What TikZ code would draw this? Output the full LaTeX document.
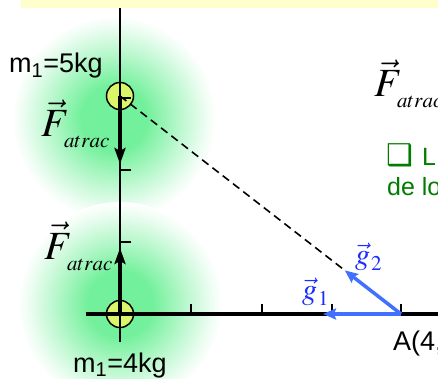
\documentclass[tikz,border=0pt]{standalone}
\usepackage{mathptmx}
\usepackage[no-math]{fontspec}
\setmainfont{Liberation Sans}
\newfontfamily\dejavu{DejaVu Sans}
\usetikzlibrary{arrows.meta,calc}
\definecolor{band}{RGB}{255,255,204}
\definecolor{glowg}{RGB}{115,240,155}
\colorlet{glowm}{glowg!50!white}
\colorlet{glowl}{glowg!15!white}
\definecolor{massfill}{RGB}{218,245,105}
\definecolor{vblue}{RGB}{64,112,255}
\definecolor{tblue}{RGB}{25,45,255}
\definecolor{dgreen}{RGB}{0,125,0}
\pgfdeclareradialshading{glow}{\pgfpoint{0bp}{0bp}}{color(0bp)=(glowg); color(8bp)=(glowg); color(16bp)=(glowm); color(22bp)=(glowl); color(25bp)=(white); color(50bp)=(white)}
\newcommand\fatr{{\fontsize{40}{44}\selectfont$\vec{F}$\kern-5pt\raisebox{-11pt}{\fontsize{21}{21}\selectfont$atrac$}}}
\newcommand\gvec[1]{{\fontsize{30}{32}\selectfont$\vec{g}$\kern1pt\raisebox{-6pt}{\fontsize{21}{21}\selectfont$#1$}}}
\begin{document}
\begin{tikzpicture}[x=1pt,y=-1pt,
  mass/.style={circle,draw=black,line width=1.5pt,fill=massfill,minimum size=27pt,inner sep=0},
  axisline/.style={line width=2pt},
  haxis/.style={line width=3.2pt},
  tick/.style={line width=1.2pt},
  force/.style={line width=4.5pt,-{Stealth[length=16pt,width=11pt,inset=3pt]}},
  garrow/.style={vblue,line width=3.5pt,-{Stealth[length=13pt,width=11pt,inset=2pt]}},
  dashline/.style={line width=1.6pt,dash pattern=on 8pt off 5pt},
  lab/.style={inner sep=0,font=\fontsize{27}{30}\selectfont},
  glab/.style={inner sep=0,text=tblue},
  txt/.style={inner sep=0,text=dgreen,font=\fontsize{25}{30}\selectfont}]
\useasboundingbox (0,0) rectangle (438,379);
% glows
\shade[shading=glow] (114,118) circle (102pt);
\shade[shading=glow] (120,304) circle (102pt);
% top band
\fill[band] (21,0) rectangle (438,8);
% coordinates
\coordinate (ytop) at (120,8);
\coordinate (ybot) at (120,342);
\coordinate (xl) at (86,314);
\coordinate (xr) at (438,314);
\coordinate (A) at (401,314);
% masses
\node[mass] (m2) at (120,96) {};
\node[mass] (m1) at (120,314) {};
\coordinate (g2tip) at ($(A)!0.2!(m2.center)$);
\coordinate (g1tip) at (323,314);
\coordinate (f2tip) at (120,164);
\coordinate (f1tip) at (120,248);
% dashed line
\draw[dashline] (m2.center) -- (g2tip);
% axes
\draw[axisline] (ytop) -- (ybot);
\draw[haxis] (xl) -- (xr);
% ticks
\foreach \x in {191,262,332,401} \draw[tick] (\x,304) -- (\x,314);
\foreach \y in {98,170,242} \draw[tick] (120,\y) -- (131,\y);
% forces
\draw[force] (m2.center) -- (f2tip);
\draw[force] (m1.center) -- (f1tip);
% field vectors
\draw[garrow] (A) -- (g1tip);
\draw[garrow] (A) -- (g2tip);
% labels
\node[lab,anchor=base west] (l2) at (9,73) {m\textsubscript{1}=5kg};
\node[lab,anchor=base west] (l1) at (73,372) {m\textsubscript{1}=4kg};
\node[inner sep=0,anchor=base west] (F2) at (41,137) {\fatr};
\node[inner sep=0,anchor=base west] (F1) at (44,259) {\fatr};
\node[inner sep=0,anchor=base west] (F3) at (374,97) {\fatr};
\node[glab,anchor=base west] (g1) at (302,299) {\gvec{1}};
\node[glab,anchor=base west] (g2) at (355,264) {\gvec{2}};
\node[lab,anchor=base west] (Alab) at (393,350) {A(4,0)};
\node[txt,anchor=base west] (t1) at (386,166) {{\dejavu\fontsize{30}{30}\selectfont ❑}\hspace{9pt}L};
\node[txt,anchor=base west] (t2) at (387,196) {de lo};
\end{tikzpicture}
\end{document}
